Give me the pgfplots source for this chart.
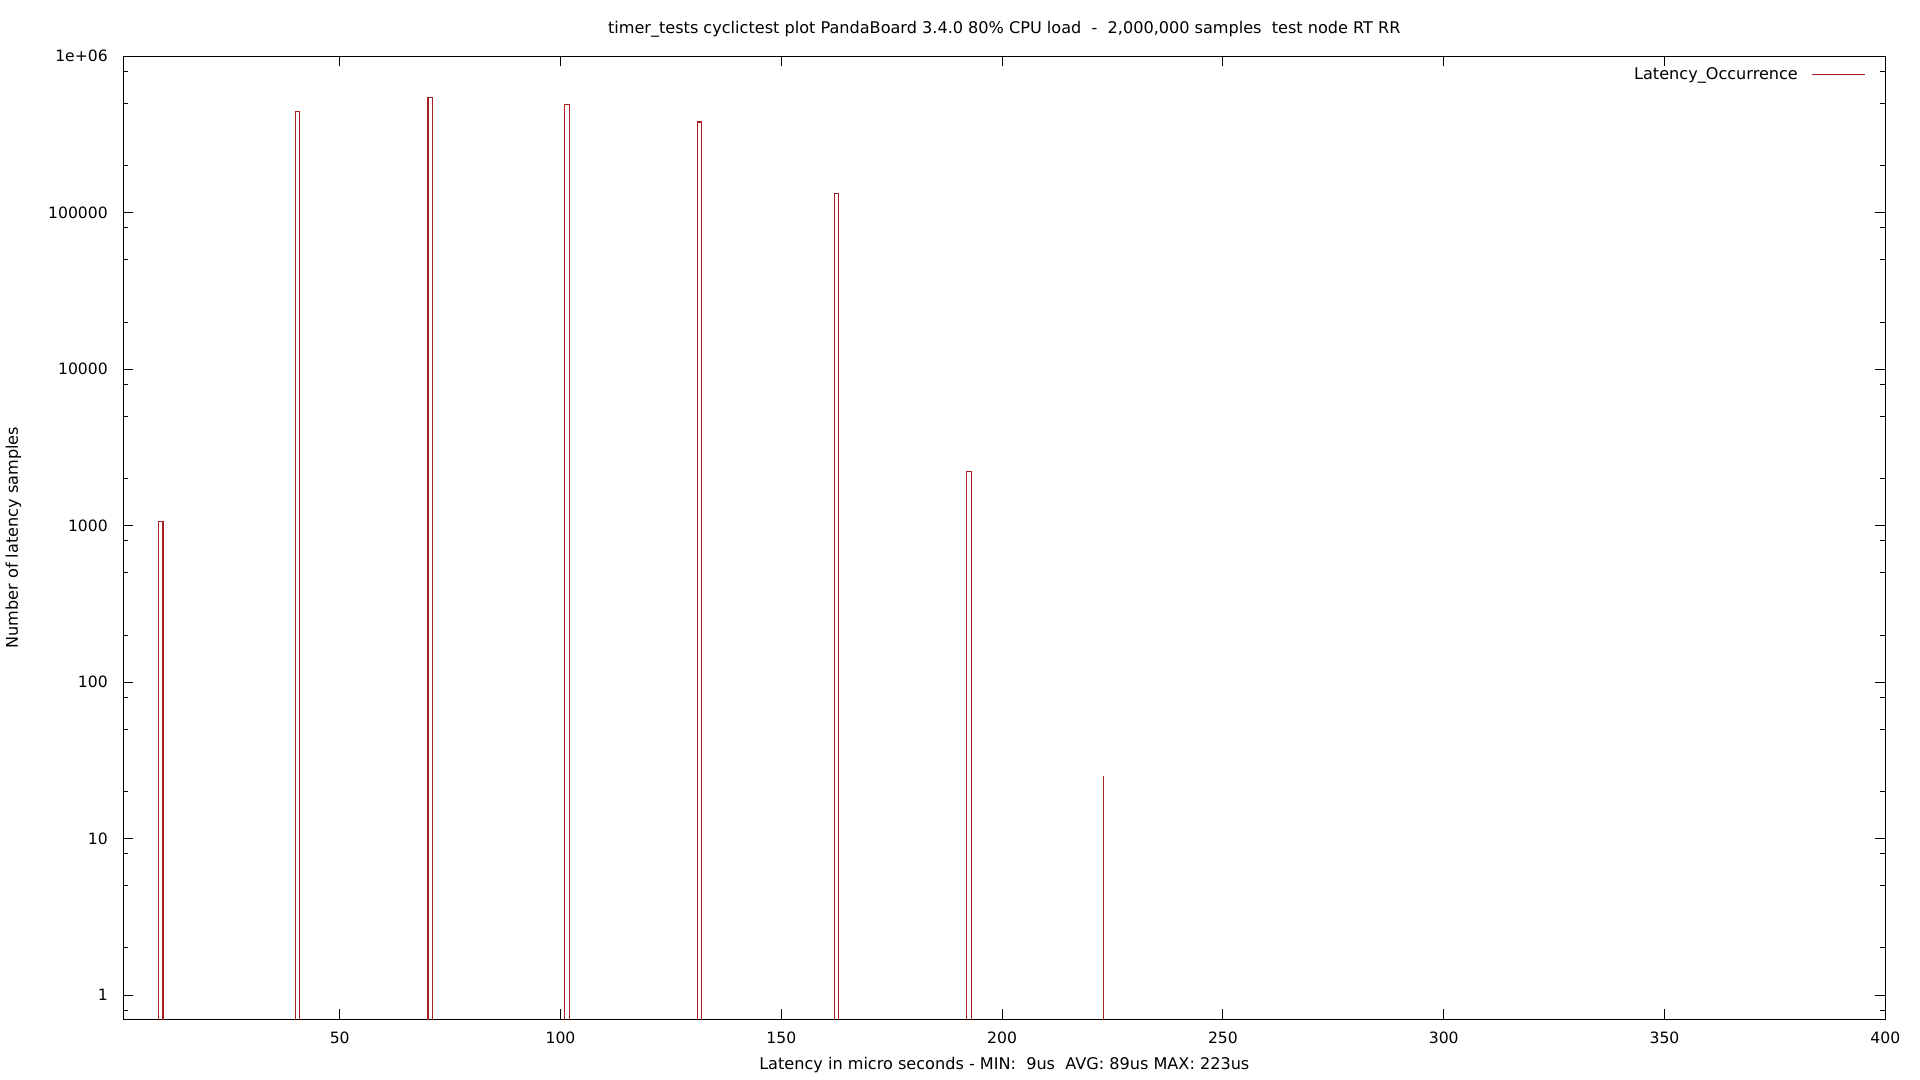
\documentclass[border=0pt]{standalone}
\usepackage{fontspec}
\setmainfont{DejaVu Sans}
\usepackage{pgfplots}
\pgfplotsset{compat=1.18}
\definecolor{gpred}{RGB}{170,32,32}
\begin{document}
\fontsize{8.05pt}{9.6pt}\selectfont
\begin{tikzpicture}
\useasboundingbox (-61.65pt,-30.35pt) rectangle (898.35pt,509.65pt);
\begin{axis}[
  scale only axis,
  width=881pt, height=481.5pt,
  xmin=1, xmax=400,
  ymode=log, ymin=0.7, ymax=1000000,
  axis line style={line width=0.5pt},
  tick align=inside,
  major tick length=5pt, minor tick length=2.5pt,
  every tick/.style={black, line width=0.5pt},
  xtick={50,100,150,200,250,300,350,400},
  ytick={1,10,100,1000,10000,100000,1000000},
  yticklabels={1,10,100,1000,10000,100000,1e+06},
  minor ytick={0.8,2,5,8,20,50,80,200,500,800,2000,5000,8000,20000,50000,80000,200000,500000,800000},
  minor xtick={},
  /pgf/number format/assume math mode=true,
  xticklabel style={yshift=-3.5pt, font=\fontsize{7.8pt}{9.4pt}\selectfont},
  yticklabel style={xshift=-4.9pt, font=\fontsize{7.8pt}{9.4pt}\selectfont},
  log basis y=10,
  every axis title shift=0pt,
  title={timer\_tests cyclictest plot PandaBoard 3.4.0 80\% CPU load \ - \ 2,000,000 samples \ test node RT RR},
  title style={at={(axis description cs:0.5,1.0277)}, anchor=center, font=\fontsize{8.05pt}{9.6pt}\selectfont},
  xlabel={Latency in micro seconds - MIN: \ 9us \ AVG: 89us MAX: 223us},
  xlabel style={at={(axis description cs:0.5,-0.0475)}, anchor=center, font=\fontsize{8.05pt}{9.6pt}\selectfont},
  ylabel={Number of latency samples},
  ylabel style={at={(axis description cs:-0.0624,0.5)}, anchor=center, font=\fontsize{8.05pt}{9.6pt}\selectfont},
  legend plot pos=right,
  legend style={draw=none, fill=none, at={(axis description cs:0.9889,0.981)}, anchor=east,
    font=\fontsize{8.05pt}{9.6pt}\selectfont, inner sep=0pt, row sep=0pt},
  legend image code/.code={\path (0pt,0pt); \draw[#1] (4.9pt,0pt) -- (31.2pt,0pt);},
]
\addplot[gpred, line width=0.55pt, line join=miter] coordinates {
  (9,0.5) (9,1064) (10,1064) (10,0.5)
  (40,0.5) (40,444800) (41,444800) (41,0.5)
  (70,0.5) (70,545000) (71,545000) (71,0.5)
  (101,0.5) (101,489000) (102,489000) (102,0.5)
  (131,0.5) (131,380000) (132,380000) (132,0.5)
  (162,0.5) (162,133400) (163,133400) (163,0.5)
  (192,0.5) (192,2230) (193,2230) (193,0.5)
  (223,0.5) (223,25)
};
\addlegendentry{Latency\_Occurrence}
\end{axis}
\end{tikzpicture}
\end{document}
